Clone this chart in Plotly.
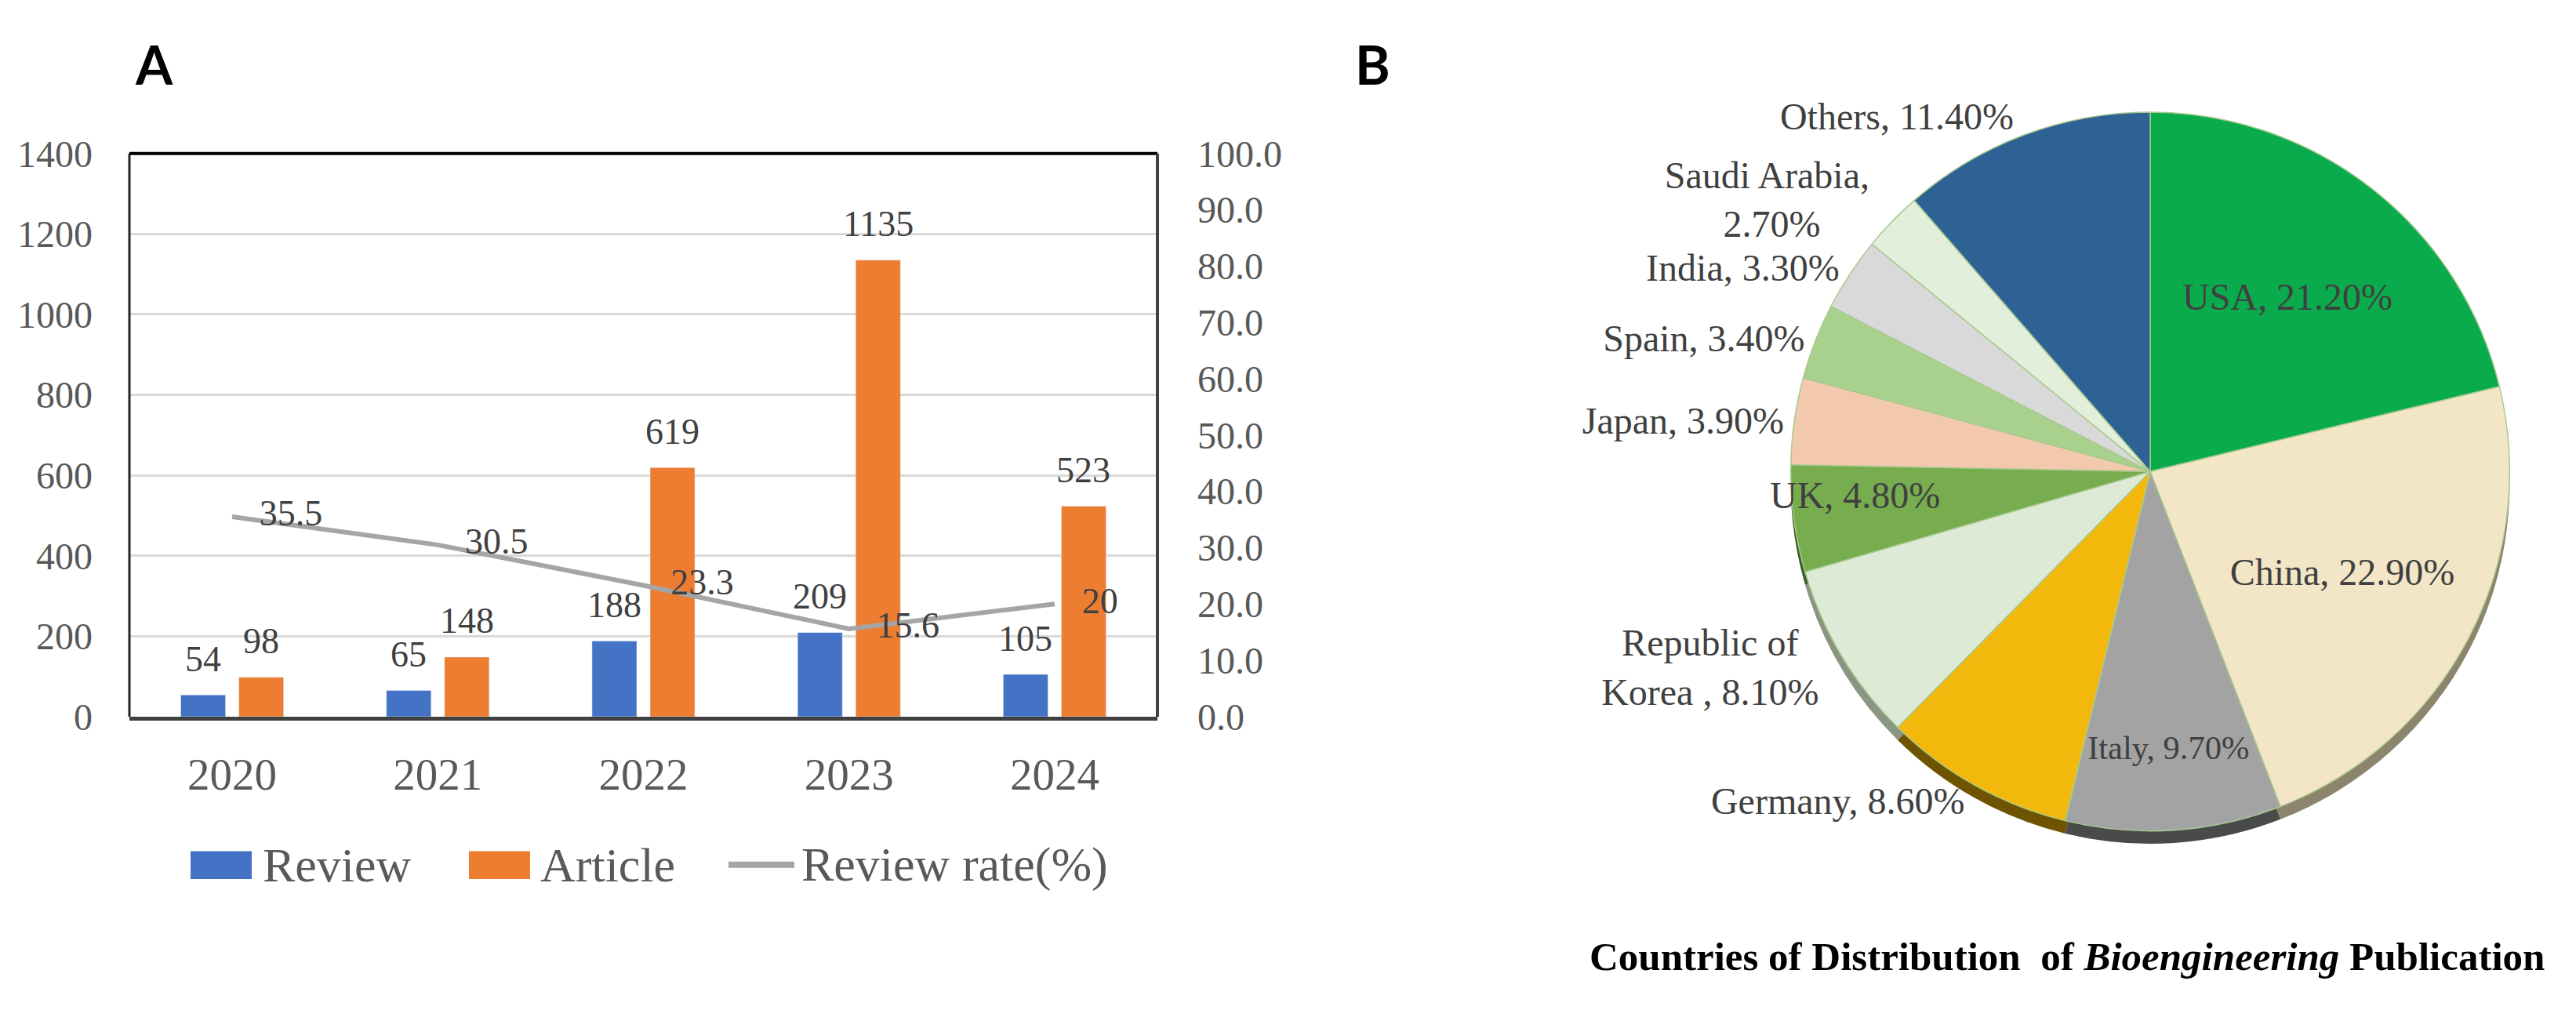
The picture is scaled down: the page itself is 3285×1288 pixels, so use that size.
import plotly.graph_objects as go

# ---------------- data ----------------
years = ["2020", "2021", "2022", "2023", "2024"]
review = [54, 65, 188, 209, 105]
article = [98, 148, 619, 1135, 523]
review_rate = [35.5, 30.5, 23.3, 15.6, 20]

countries = ["USA", "China", "Italy", "Germany", "Republic of Korea", "UK",
             "Japan", "Spain", "India", "Saudi Arabia", "Others"]
shares = [21.2, 22.9, 9.7, 8.6, 8.1, 4.8, 3.9, 3.4, 3.3, 2.7, 11.4]
country_display = ["USA,", "China,", "Italy,", "Germany,", "Republic of<br>Korea ,", "UK,",
                   "Japan,", "Spain,", "India,", "Saudi Arabia,<br>", "Others,"]
label_pos = ["inside", "inside", "inside", "outside", "outside", "none",
             "outside", "outside", "outside", "outside", "outside"]

# ---------------- styles ----------------
W, H = 3285, 1288
SERIF = "Liberation Serif"
C_REVIEW = "#4472C4"
C_ARTICLE = "#ED7D31"
C_RATE = "#A5A5A5"
TXT = "#404040"
TICK = "#595959"
slice_colors = ["#0AAB4C", "#F2E6C6", "#A3A3A3", "#F2B90C", "#DDEAD5", "#77AD4F",
                "#F3C9AE", "#A9D18E", "#D9D9D9", "#E2EFDA", "#2E6194"]
shadow_colors = ["#05602A", "#8C846C", "#4A4A4A", "#6E5400", "#8A9683", "#3F5E29",
                 "#8F6F5C", "#5E7A4C", "#7A7A7A", "#8A9683", "#163352"]


def px_x(v):
    return v / W


def px_y(v):
    return 1 - v / H


pie_texts = [f"{d} {v:.2f}%" for d, v in zip(country_display, shares)]

fig = go.Figure()

fig.add_trace(go.Bar(x=years, y=review, name="Review", marker_color=C_REVIEW,
                     showlegend=False, hoverinfo="x+y"))
fig.add_trace(go.Bar(x=years, y=article, name="Article", marker_color=C_ARTICLE,
                     showlegend=False, hoverinfo="x+y"))
fig.add_trace(go.Scatter(
    x=years, y=review_rate, name="Review rate(%)", yaxis="y2",
    mode="lines+markers+text", line=dict(color=C_RATE, width=6),
    marker=dict(size=54, color="rgba(0,0,0,0)"),
    text=[str(v) for v in review_rate], textposition="middle right",
    textfont=dict(family=SERIF, size=46, color=TXT), cliponaxis=False,
    showlegend=False))

# bar value labels (placed at each bar's value, offset to its slot in the group)
slot_shift = 37
for vals, sh in [(review, -slot_shift), (article, slot_shift)]:
    for i, v in enumerate(vals):
        fig.add_annotation(x=i, y=v, xref="x", yref="y", text=str(v),
                           showarrow=False, xanchor="center", yanchor="middle",
                           xshift=sh, yshift=46,
                           font=dict(family=SERIF, size=46, color=TXT))

# pie shadow (3D edge) and pie
pie_dom_x = [px_x(2264), px_x(3220)]
pie_top, pie_bot = 122, 1078
depth = 17
fig.add_trace(go.Pie(
    labels=countries, values=shares, sort=False, direction="clockwise",
    rotation=0, marker=dict(colors=shadow_colors, line=dict(width=0)),
    textinfo="none", hoverinfo="skip", showlegend=False,
    domain=dict(x=pie_dom_x, y=[px_y(pie_bot + depth), px_y(pie_top + depth)])))
fig.add_trace(go.Pie(
    labels=countries, values=shares, sort=False, direction="clockwise",
    rotation=0, marker=dict(colors=slice_colors, line=dict(color="#A9C98F", width=1.5)),
    text=pie_texts,
    textinfo="text", textposition=label_pos, insidetextorientation="horizontal",
    textfont=dict(family=SERIF, size=48, color=TXT),
    showlegend=False, automargin=False,
    domain=dict(x=pie_dom_x, y=[px_y(pie_bot), px_y(pie_top)])))

# UK label (too narrow a slice for plotly's auto-fit, so placed on the slice)
fig.add_annotation(x=px_x(2365), y=px_y(632), xref="paper", yref="paper",
                   text=pie_texts[5], showarrow=False, xanchor="center", yanchor="middle",
                   font=dict(family=SERIF, size=48, color=TXT))

plot_l, plot_r, plot_t, plot_b = 165, 1476, 177, 926

fig.update_layout(
    width=W, height=H, autosize=False,
    margin=dict(l=0, r=0, t=0, b=0),
    paper_bgcolor="white", plot_bgcolor="white",
    barmode="group", bargap=0.435, bargroupgap=0.23,
    showlegend=False,
    font=dict(family=SERIF, color=TICK),
    xaxis=dict(
        domain=[px_x(plot_l), px_x(plot_r)], type="category",
        range=[-0.5, len(years) - 0.5],
        showline=True, linecolor="#404040", linewidth=5,
        ticks="", ticklabelstandoff=20,
        tickfont=dict(family=SERIF, size=57, color=TICK),
        showgrid=False, zeroline=False),
    yaxis=dict(
        domain=[px_y(plot_b), px_y(plot_t)], range=[0, 1400], dtick=200,
        showgrid=True, gridcolor="#D9D9D9", gridwidth=3,
        zeroline=False, showline=False, ticks="", ticklabelstandoff=46,
        tickfont=dict(family=SERIF, size=48, color=TICK)),
    yaxis2=dict(
        overlaying="y", side="right", range=[0, 100], dtick=10,
        tickformat=".1f", showgrid=False, zeroline=False, showline=False,
        ticks="", ticklabelstandoff=50,
        tickfont=dict(family=SERIF, size=48, color=TICK)),
)

# plot frame (left, top, right)
fig.add_shape(type="line", xref="paper", yref="paper",
              x0=px_x(plot_l), x1=px_x(plot_l), y0=px_y(plot_b), y1=px_y(plot_t),
              line=dict(color="#262626", width=3))
fig.add_shape(type="line", xref="paper", yref="paper",
              x0=px_x(plot_l), x1=px_x(plot_r), y0=px_y(plot_t), y1=px_y(plot_t),
              line=dict(color="#000000", width=4))
fig.add_shape(type="line", xref="paper", yref="paper",
              x0=px_x(plot_r), x1=px_x(plot_r), y0=px_y(plot_b), y1=px_y(plot_t),
              line=dict(color="#404040", width=4))

# custom legend
leg_y = 1123
fig.add_shape(type="rect", xref="paper", yref="paper",
              x0=px_x(243), x1=px_x(321), y0=px_y(1142), y1=px_y(1105),
              fillcolor=C_REVIEW, line=dict(width=0))
fig.add_shape(type="rect", xref="paper", yref="paper",
              x0=px_x(598), x1=px_x(676), y0=px_y(1142), y1=px_y(1105),
              fillcolor=C_ARTICLE, line=dict(width=0))
fig.add_shape(type="line", xref="paper", yref="paper",
              x0=px_x(929), x1=px_x(1013), y0=px_y(leg_y), y1=px_y(leg_y),
              line=dict(color=C_RATE, width=8))
for xx, t in [(333, "Review"), (687, "Article"), (1020, "Review rate(%)")]:
    fig.add_annotation(x=px_x(xx), y=px_y(leg_y), xref="paper", yref="paper",
                       text=t, showarrow=False, xanchor="left", yanchor="middle",
                       font=dict(family=SERIF, size=62, color=TICK))

# panel letters
for xx, t in [(196, "A"), (1750, "B")]:
    fig.add_annotation(x=px_x(xx), y=px_y(58), xref="paper", yref="paper",
                       text=f"<b>{t}</b>", showarrow=False,
                       xanchor="center", yanchor="middle",
                       font=dict(family="Lato", size=68, color="black"))

# pie caption
fig.add_annotation(x=px_x(2636), y=px_y(1245), xref="paper", yref="paper",
                   text="<b>Countries of Distribution\u00a0\u00a0of <i>Bioengineering</i> Publication</b>",
                   showarrow=False, xanchor="center", yanchor="middle",
                   font=dict(family=SERIF, size=51, color="black"))

fig.write_html("out.html", config={"displayModeBar": False},
               post_script="document.body.style.margin='0';document.body.style.overflow='hidden';")
